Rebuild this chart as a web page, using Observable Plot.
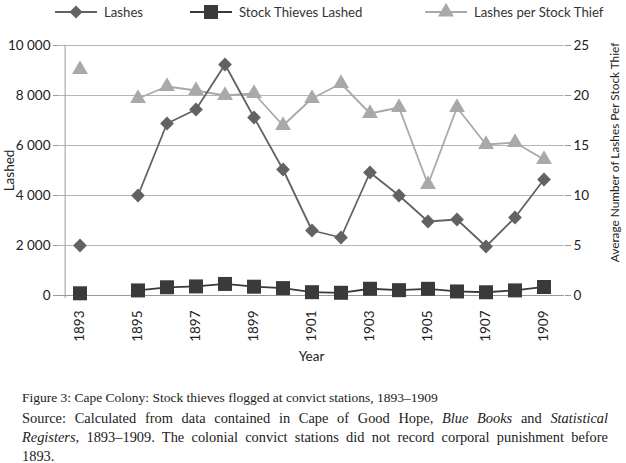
<!DOCTYPE html>
<html>
<head>
<meta charset="utf-8">
<script src="https://cdn.jsdelivr.net/npm/d3@7"></script>
<script src="https://cdn.jsdelivr.net/npm/@observablehq/plot@0.6"></script>
<style>
  html, body { margin: 0; padding: 0; background: #fff; }
  body { width: 626px; height: 463px; overflow: hidden; font-family: Lato, "Open Sans", sans-serif; }
  #legend { position: relative; height: 26px; font-size: 13.2px; color: #333; }
  .li { position: absolute; top: 2px; display: flex; align-items: center; gap: 7px; }
  #chart svg { display: block; }
  #caption { font-family: "Liberation Serif", "DejaVu Serif", serif; color: #222; margin: 0 18px 0 22px; }
  #caption .t { font-size: 13.5px; margin-top: 17px; line-height: 19px; }
  #caption .s { font-size: 14.4px; line-height: 19px; margin-top: 2px; }
  #caption .s div { white-space: nowrap; }
  #caption .s div.j { text-align: justify; text-align-last: justify; white-space: normal; }
</style>
</head>
<body>
<div id="legend"></div>
<div id="chart"></div>
<div id="caption">
  <div class="t">Figure 3: Cape Colony: Stock thieves flogged at convict stations, 1893–1909</div>
  <div class="s">
    <div class="j">Source: Calculated from data contained in Cape of Good Hope, <i>Blue Books</i> and <i>Statistical</i></div>
    <div class="j"><i>Registers</i>, 1893–1909. The colonial convict stations did not record corporal punishment before</div>
    <div>1893.</div>
  </div>
</div>
<script>
const years = [1893,1894,1895,1896,1897,1898,1899,1900,1901,1902,1903,1904,1905,1906,1907,1908,1909];
const lashes = [2000,null,4000,6880,7440,9240,7120,5040,2600,2320,4920,4000,2960,3040,1960,3120,4640];
const thieves = [88,null,203,329,363,462,352,296,132,109,270,213,267,162,130,204,341];
const perThief = [22.6,null,19.7,20.9,20.5,20.0,20.2,17.0,19.7,21.2,18.2,18.8,11.1,18.8,15.1,15.3,13.6];
const leftTicks = [0,2000,4000,6000,8000,10000];
const rightTicks = [0,5,10,15,20,25];
const labelYears = [1893,1895,1897,1899,1901,1903,1905,1907,1909];
const seriesNames = ["Lashes","Stock Thieves Lashed","Lashes per Stock Thief"];

const ratio = 10000 / 25;
const fmt = d3.formatLocale({thousands: " ", grouping: [3], decimal: "."}).format(",");

const rows = years.map((y, i) => ({year: y, lashes: lashes[i], thieves: thieves[i], per: perThief[i] == null ? null : perThief[i] * ratio}));
const valid = k => rows.filter(r => r[k] != null);

const cLash = "#626262", cThief = "#3a3a3a", cPer = "#a9a9a9";

const plot = Plot.plot({
  width: 626,
  height: 345,
  marginLeft: 58,
  marginRight: 62,
  marginTop: 19,
  marginBottom: 76,
  style: {fontFamily: "Lato, 'Open Sans', sans-serif", fontSize: "13.5px", color: "#333"},
  x: {type: "band", domain: years, padding: 0},
  y: {domain: [0, 10000]},
  marks: [
    Plot.ruleY(leftTicks.filter(d => d > 0), {stroke: "#b5b5b5", strokeWidth: 1}),
    Plot.ruleY([0], {stroke: "#9a9a9a", strokeWidth: 1}),
    Plot.axisY({ticks: leftTicks, tickFormat: fmt, tickSize: 5, tickPadding: 3, stroke: "#9a9a9a", label: null, fill: "#222", fontSize: 13.5}),
    Plot.axisY({ticks: rightTicks.map(d => d * ratio), anchor: "right", tickFormat: d => d / ratio, tickSize: 6, tickPadding: 3, stroke: "#9a9a9a", label: null, fill: "#222", fontSize: 13.5}),
    Plot.axisX({ticks: labelYears, tickFormat: d => String(d), tickRotate: -90, tickSize: 0, tickPadding: 15, label: null, fill: "#222", fontSize: 13.5}),
    Plot.text(["Year"], {frameAnchor: "bottom", dy: 65, textAnchor: "middle", fill: "#222", fontSize: 13.5}),
    Plot.text(["Lashed"], {frameAnchor: "left", dx: -49, dy: 0, textAnchor: "middle", rotate: -90, fill: "#222", fontSize: 13.5}),
    Plot.text(["Average Number of Lashes Per Stock Thief"], {frameAnchor: "right", dx: 51, dy: -18, textAnchor: "middle", rotate: -90, fill: "#222", fontSize: 11.8}),
    Plot.ruleX([0], {x: () => years[0], y1: -120, y2: 10000, stroke: "#9a9a9a", dx: -14.85}),
    Plot.line(rows, {x: "year", y: "per", stroke: cPer, strokeWidth: 1.8, defined: d => d.per != null}),
    Plot.dot(valid("per"), {x: "year", y: "per", symbol: "triangle", r: 5.9, fill: cPer}),
    Plot.line(rows, {x: "year", y: "lashes", stroke: cLash, strokeWidth: 1.8, defined: d => d.lashes != null}),
    Plot.dot(valid("lashes"), {x: "year", y: "lashes", symbol: "diamond2", r: 6.2, fill: cLash}),
    Plot.line(rows, {x: "year", y: "thieves", stroke: cThief, strokeWidth: 1.8, defined: d => d.thieves != null}),
    Plot.dot(valid("thieves"), {x: "year", y: "thieves", symbol: "square", r: 7.9, fill: cThief})
  ]
});
document.getElementById("chart").appendChild(plot);

// legend
const legend = document.getElementById("legend");
const syms = [
  {name: seriesNames[0], color: cLash, sym: d3.symbolDiamond2, size: 110, left: 55},
  {name: seriesNames[1], color: cThief, sym: d3.symbolSquare, size: 196, left: 190},
  {name: seriesNames[2], color: cPer, sym: d3.symbolTriangle, size: 110, left: 425}
];
syms.forEach(s => {
  const div = document.createElement("div");
  div.className = "li";
  div.style.left = s.left + "px";
  const svg = d3.create("svg").attr("width", 42).attr("height", 20);
  svg.append("line").attr("x1", 0).attr("x2", 42).attr("y1", 10).attr("y2", 10).attr("stroke", s.color).attr("stroke-width", 1.8);
  svg.append("path").attr("d", d3.symbol(s.sym, s.size)()).attr("transform", "translate(21,10)").attr("fill", s.color);
  div.appendChild(svg.node());
  const sp = document.createElement("span");
  sp.textContent = s.name;
  div.appendChild(sp);
  legend.appendChild(div);
});
</script>
</body>
</html>
